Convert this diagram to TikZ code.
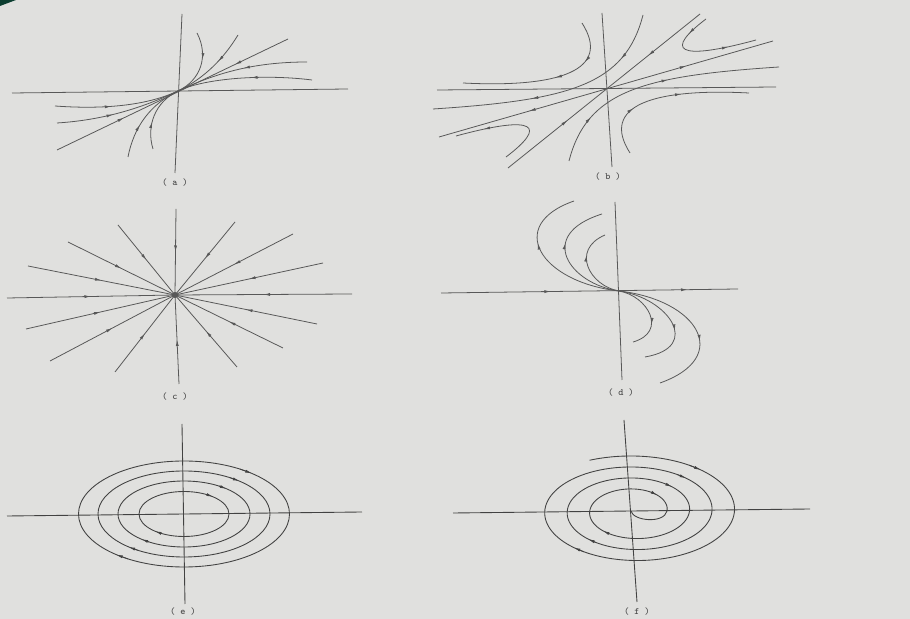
\documentclass[tikz,border=0pt]{standalone}
\usetikzlibrary{arrows.meta,decorations.markings}
\definecolor{bg}{RGB}{224,224,222}
\definecolor{lc}{RGB}{88,88,88}
\definecolor{ac}{RGB}{66,66,66}
\definecolor{corner}{RGB}{12,62,48}
\begin{document}
\begin{tikzpicture}[x=0.2mm,y=-0.2mm,
  >={Latex[length=1.3mm,width=0.6mm]},
  ln/.style={draw=lc,line width=0.45pt},
  ax/.style={draw=ac,line width=0.5pt},
  fw/.style={postaction={decorate,decoration={markings,mark=at position #1 with {\arrow{>}}}}},
  bw/.style={postaction={decorate,decoration={markings,mark=at position #1 with {\arrowreversed{>}}}}},
  arrowtip/.style={draw=lc,line width=0.45pt,->},
  lab/.style={font=\ttfamily\fontsize{5.5}{6}\selectfont,text=ac,inner sep=0pt}]
\fill[bg] (0,0) rectangle (910,619);
\useasboundingbox (0,0) rectangle (910,619);
\fill[corner] (0,0) -- (16,0) -- (0,6) -- cycle;

% ---------- (a) ----------
\coordinate (Oa) at (178,91);
\draw[ln] (12,93) -- (348,89);
\draw[ln] (182,14) -- (175,173);
\draw[ln,fw=0.29,bw=0.77] (57,150) -- (288,39);
\draw[ln,fw=0.4] (197,33) .. controls (209,56) and (201,80) .. (Oa);
\draw[ln,fw=0.4] (238,35) .. controls (224,58) and (205,78) .. (Oa);
\draw[ln,fw=0.48] (307,62) .. controls (252,62) and (214,74) .. (Oa);
\draw[ln,fw=0.45] (312,80) .. controls (265,74) and (205,78) .. (Oa);
\draw[ln,fw=0.4] (153,149) .. controls (146,126) and (155,102) .. (Oa);
\draw[ln,fw=0.4] (128,157) .. controls (134,126) and (151,104) .. (Oa);
\draw[ln,fw=0.45] (57,123) .. controls (104,120) and (142,108) .. (Oa);
\draw[ln,fw=0.45] (55,106) .. controls (110,110) and (150,104) .. (Oa);
\node[lab] (la) at (175,183) {( a )};

% ---------- (b) ----------
\coordinate (Ob) at (606,88);
\draw[ln] (437,90) -- (776,87);
\draw[ln] (602,13) -- (612,167);
\draw[ln,bw=0.27,fw=0.74] (439,137) -- (773,41);
\draw[ln,fw=0.31,bw=0.73] (508,168) -- (700,14);
\draw[ln,fw=0.25,fw=0.45] (582,23) .. controls (612,70) and (560,88) .. (463,83);
\draw[ln,fw=0.3,fw=0.6] (630,153) .. controls (600,106) and (652,88) .. (749,93);
\draw[ln,fw=0.2,fw=0.75] (706,19) .. controls (665,50) and (675,62) .. (756,40);
\draw[ln,fw=0.75] (506,157) .. controls (547,126) and (537,114) .. (456,136);
\draw[ln,fw=0.2,fw=0.6] (643,15) .. controls (625,85) and (570,100) .. (433,109);
\draw[ln,fw=0.2,fw=0.55] (569,161) .. controls (587,91) and (642,76) .. (779,67);
\node[lab] (lb) at (608,177) {( b )};

% ---------- (c) ----------
\coordinate (Oc) at (175,295);
\foreach \ex/\ey in {176/209,235/222,293/234,323/263,352/294,317/324,283/348,237/367,
                    179/384,115/372,50/361,26/329,7/298,28/266,68/242,118/225}
  {\draw[ln,fw=0.5] (\ex,\ey) -- (Oc);}
\fill[lc] (Oc) circle[radius=0.6mm];
\node[lab] (lc) at (175,397) {( c )};

% ---------- (d) ----------
\coordinate (Od) at (619,291);
\draw[ln,fw=0.37,fw=0.83] (441,293) -- (738,289);
\draw[ln] (615,202) -- (622,380);
\draw[ln,fw=0.62] (Od) .. controls (540,282) and (505,225) .. (574,201);
\draw[ln,fw=0.62] (Od) .. controls (570,284) and (535,235) .. (602,214);
\draw[ln,fw=0.65] (Od) .. controls (590,286) and (570,250) .. (605,235);
\draw[ln,fw=0.62] (Od) .. controls (698,300) and (733,357) .. (660,383);
\draw[ln,fw=0.62] (Od) .. controls (668,298) and (703,347) .. (645,357);
\draw[ln,fw=0.65] (Od) .. controls (648,296) and (668,332) .. (633,342);
\node[lab] (ld) at (621,393) {( d )};

% ---------- (e) ----------
\coordinate (Oe) at (184,514);
\draw[ax] (7,516) -- (362,512);
\draw[ax] (182,424) -- (185,604);
\foreach \rx/\ry in {45/22.5,66/33,86/43,105.5/53}{
  \draw[ax] (Oe) ellipse[x radius=\rx*0.2mm, y radius=\ry*0.2mm];
  \draw[arrowtip,draw=ac] ({184+\rx*cos(58)},{514-\ry*sin(58)}) -- ({184+\rx*cos(50)},{514-\ry*sin(50)});
  \draw[arrowtip,draw=ac] ({184+\rx*cos(238)},{514-\ry*sin(238)}) -- ({184+\rx*cos(230)},{514-\ry*sin(230)});
}
\node[lab] (le) at (183,612) {( e )};

% ---------- (f) ----------
\coordinate (Of) at (631,511);
\draw[ax] (453,513) -- (810,509);
\draw[ax] (624,420) -- (637,602);
\draw[ax] (Of) .. controls (633,521) and (664,524) .. (667,511);
\draw[ax] plot[domain=0:20.85,samples=400,smooth,variable=\t]
  ({634+(33+3.58*\t)*cos(\t r)},{511-(19.25+1.75*\t)*sin(\t r)});
\foreach \p in {0.87,7.15,13.44,19.72}
  {\draw[arrowtip,draw=ac] ({634+(33+3.58*(\p+0.14))*cos((\p+0.14) r)},{511-(19.25+1.75*(\p+0.14))*sin((\p+0.14) r)})
      -- ({634+(33+3.58*\p)*cos(\p r)},{511-(19.25+1.75*\p)*sin(\p r)});}
\foreach \p in {4.0,10.28,16.57}
  {\draw[arrowtip,draw=ac] ({634+(33+3.58*(\p+0.14))*cos((\p+0.14) r)},{511-(19.25+1.75*(\p+0.14))*sin((\p+0.14) r)})
      -- ({634+(33+3.58*\p)*cos(\p r)},{511-(19.25+1.75*\p)*sin(\p r)});}
\node[lab] (lf) at (637,612) {( f )};
\end{tikzpicture}
\end{document}
